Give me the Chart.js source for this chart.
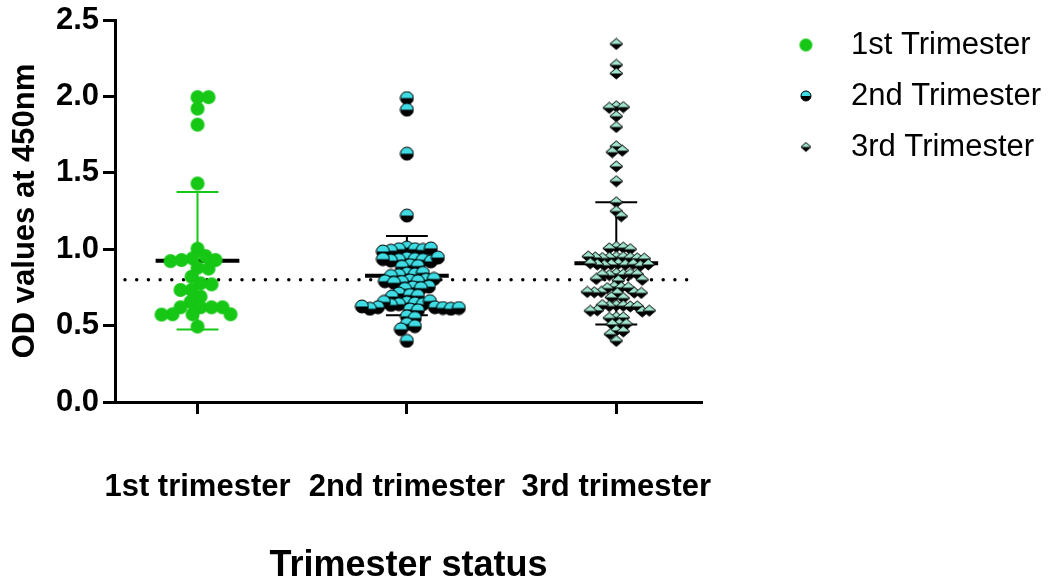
<!DOCTYPE html>
<html>
<head>
<meta charset="utf-8">
<script src="https://cdn.jsdelivr.net/npm/chart.js@4.4.1/dist/chart.umd.min.js"></script>
<style>
  html, body { margin: 0; padding: 0; background: #fff; }
</style>
</head>
<body>
<canvas id="chart" width="1051" height="585"></canvas>
<script>
const categories = ["1st trimester", "2nd trimester", "3rd trimester"];
const seriesNames = ["1st Trimester", "2nd Trimester", "3rd Trimester"];
const yTicks = [0, 0.5, 1.0, 1.5, 2.0, 2.5];
const cutoff = 0.8;

const first = [1.995, 1.995, 1.92, 1.815, 1.43, 1.003, 0.955, 0.94, 0.929, 0.929, 0.922,
  0.879, 0.873, 0.82, 0.777, 0.77, 0.733, 0.733, 0.69, 0.655, 0.62, 0.62, 0.62, 0.62,
  0.574, 0.574, 0.574, 0.572, 0.494];

const second = [1.989, 1.913, 1.625, 1.22,
  1.01, 1.0, 1.0, 0.995, 0.99, 1.005, 0.985,
  0.94, 0.935, 0.93, 0.93, 0.925, 0.92, 0.935, 0.945,
  0.895, 0.885, 0.89,
  0.84, 0.835, 0.83, 0.845, 0.825,
  0.8, 0.795, 0.79, 0.785, 0.79, 0.78, 0.805,
  0.755, 0.75, 0.745, 0.74,
  0.71, 0.7, 0.695, 0.69,
  0.65, 0.645, 0.64, 0.64, 0.635, 0.66, 0.655,
  0.62, 0.62, 0.615, 0.61, 0.61, 0.625, 0.605, 0.6, 0.615,
  0.56, 0.55, 0.51, 0.496, 0.476, 0.4];

const third = [2.343, 2.206, 2.15, 1.935, 1.93, 1.925, 1.87, 1.8, 1.673, 1.645, 1.635,
  1.542, 1.445, 1.307, 1.249, 1.216,
  1.015, 1.01, 1.005, 1.0,
  0.95, 0.948, 0.945, 0.944, 0.942, 0.94, 0.946, 0.938, 0.952,
  0.905, 0.9, 0.898, 0.902, 0.895, 0.9, 0.908, 0.892, 0.9,
  0.84, 0.835, 0.83, 0.838, 0.832, 0.836,
  0.805, 0.8, 0.795,
  0.755, 0.75, 0.745, 0.748,
  0.72, 0.716, 0.712, 0.718, 0.714, 0.72,
  0.685, 0.68,
  0.632, 0.63, 0.628, 0.625, 0.634, 0.626,
  0.6, 0.596, 0.592, 0.598,
  0.555, 0.553, 0.55,
  0.512, 0.51, 0.508,
  0.468, 0.462, 0.444, 0.4];

const means = [0.925, 0.827, 0.908];
const sds = [0.45, 0.26, 0.4];

const GREEN = "#16c716";
const CYAN = "#3fdce4";
const MINT = "#a2e6d0";
const FONT = "'Liberation Sans', Arial, sans-serif";

function marker(kind, w, h, top) {
  const c = document.createElement("canvas");
  c.width = w + 2;
  c.height = h + 2;
  const g = c.getContext("2d");
  const cx = c.width / 2, cy = c.height / 2;
  g.beginPath();
  if (kind === "diamond") {
    g.moveTo(cx, cy - h / 2);
    g.lineTo(cx + w / 2, cy);
    g.lineTo(cx, cy + h / 2);
    g.lineTo(cx - w / 2, cy);
    g.closePath();
  } else {
    g.arc(cx, cy, w / 2, 0, Math.PI * 2);
  }
  if (kind === "dot") {
    g.fillStyle = top;
    g.fill();
    return c;
  }
  g.save();
  g.clip();
  g.fillStyle = "#000";
  g.fillRect(0, 0, c.width, c.height);
  g.fillStyle = top;
  g.fillRect(0, 0, c.width, cy);
  g.restore();
  g.lineWidth = 1;
  g.strokeStyle = "#000";
  g.stroke();
  return c;
}

const pointMarkers = [marker("dot", 14, 14, GREEN), marker("half", 13, 13, CYAN), marker("diamond", 13, 11, MINT)];
const legendMarkers = [marker("dot", 13, 13, GREEN), marker("half", 10, 10, CYAN), marker("diamond", 10, 9, MINT)];

// dotted cutoff line plus mean / SD bars, drawn under the points
const refLines = {
  id: "refLines",
  beforeDatasetsDraw(chart) {
    const { ctx, chartArea, scales: { x, y } } = chart;
    ctx.save();
    const yc = y.getPixelForValue(cutoff);
    ctx.strokeStyle = "#000";
    ctx.lineWidth = 3.5;
    ctx.lineCap = "round";
    ctx.setLineDash([0, 11.7]);
    ctx.beginPath();
    ctx.moveTo(chartArea.left + 10, yc);
    ctx.lineTo(chartArea.right - 14, yc);
    ctx.stroke();
    ctx.setLineDash([]);
    ctx.lineCap = "butt";

    means.forEach((m, i) => {
      const cx = x.getPixelForValue(i + 1);
      const meanHalf = x.getPixelForValue(i + 1.2) - cx;
      const capHalf = x.getPixelForValue(i + 1.1) - cx;
      const ym = y.getPixelForValue(m);
      const yt = y.getPixelForValue(m + sds[i]);
      const yb = y.getPixelForValue(m - sds[i]);
      ctx.strokeStyle = i === 0 ? GREEN : "#000";
      ctx.lineWidth = 2;
      ctx.beginPath();
      ctx.moveTo(cx, yt); ctx.lineTo(cx, yb);
      ctx.moveTo(cx - capHalf, yt); ctx.lineTo(cx + capHalf, yt);
      ctx.moveTo(cx - capHalf, yb); ctx.lineTo(cx + capHalf, yb);
      ctx.stroke();
      ctx.strokeStyle = "#000";
      ctx.lineWidth = 4;
      ctx.beginPath();
      ctx.moveTo(cx - meanHalf, ym); ctx.lineTo(cx + meanHalf, ym);
      ctx.stroke();
    });
    ctx.restore();
  }
};

const chart = new Chart(document.getElementById("chart"), {
  type: "scatter",
  data: {
    datasets: seriesNames.map((name, i) => ({
      label: name,
      data: [],
      pointStyle: pointMarkers[i],
      pointRadius: 7
    }))
  },
  options: {
    responsive: false,
    animation: false,
    events: [],
    layout: { padding: { top: 9.5, right: 0, bottom: 0, left: 0 } },
    plugins: {
      tooltip: { enabled: false },
      legend: {
        position: "right",
        align: "start",
        maxWidth: 400,
        labels: {
          usePointStyle: true,
          pointStyleWidth: 59,
          padding: 20,
          color: "#000",
          font: { family: FONT, size: 31 },
          generateLabels: () => seriesNames.map((t, i) => ({
            text: t,
            pointStyle: legendMarkers[i],
            fillStyle: "#000",
            strokeStyle: "#000",
            lineWidth: 0,
            hidden: false,
            datasetIndex: i
          }))
        }
      }
    },
    scales: {
      x: {
        type: "linear",
        min: 0.606,
        max: 3.409,
        afterBuildTicks: (s) => { s.ticks = categories.map((c, i) => ({ value: i + 1 })); },
        ticks: {
          callback: (v, i) => categories[i],
          color: "#000",
          font: { family: FONT, size: 31, weight: "bold" },
          padding: 55,
          maxRotation: 0,
          autoSkip: false
        },
        grid: { display: true, drawOnChartArea: false, drawTicks: true, tickLength: 12, lineWidth: 3, color: "#000" },
        border: { display: true, color: "#000", width: 3 },
        title: {
          display: true,
          text: "Trimester status",
          color: "#000",
          font: { family: FONT, size: 36, weight: "bold", lineHeight: 1 },
          padding: { top: 0, bottom: 1 }
        },
        afterFit: (s) => { s.height = 183; s.paddingLeft = 0; s.paddingRight = 0; }
      },
      y: {
        min: 0,
        max: 2.5,
        afterBuildTicks: (s) => { s.ticks = yTicks.map((v) => ({ value: v })); },
        ticks: {
          callback: (v) => Number(v).toFixed(1),
          color: "#000",
          font: { family: FONT, size: 31, weight: "bold" },
          padding: 4
        },
        grid: { display: true, drawOnChartArea: false, drawTicks: true, tickLength: 12, lineWidth: 3, color: "#000" },
        border: { display: true, color: "#000", width: 3 },
        title: {
          display: true,
          text: "OD values at 450nm",
          color: "#000",
          font: { family: FONT, size: 31, weight: "bold", lineHeight: 1 },
          padding: { top: 9.5, bottom: 0 }
        },
        afterFit: (s) => { s.width = 115; s.paddingTop = 20; s.paddingBottom = 0; }
      },
      gap: {
        type: "linear",
        position: "right",
        display: true,
        ticks: { display: false },
        grid: { display: false },
        border: { display: false },
        afterFit: (s) => { s.width = 54.5; s.paddingTop = 0; s.paddingBottom = 0; }
      }
    }
  },
  plugins: [refLines]
});

// spread each group sideways so markers do not sit on top of each other
function swarm(values, center, gap) {
  const xs = chart.scales.x, ys = chart.scales.y;
  const cx = xs.getPixelForValue(center);
  const placed = [];
  return values.map((v) => {
    const py = ys.getPixelForValue(v);
    let off = 0;
    for (let k = 0; k < 400; k++) {
      const d = Math.ceil(k / 2) * (k % 2 ? 1 : -1);
      if (placed.every((p) => (p.x - d) ** 2 + (p.y - py) ** 2 >= gap * gap)) { off = d; break; }
    }
    placed.push({ x: off, y: py });
    return { x: xs.getValueForPixel(cx + off), y: v };
  });
}

const groups = [first, second, third];
const spacing = [10.5, 7.5, 7];
groups.forEach((vals, i) => { chart.data.datasets[i].data = swarm(vals, i + 1, spacing[i]); });
chart.update();
</script>
</body>
</html>
